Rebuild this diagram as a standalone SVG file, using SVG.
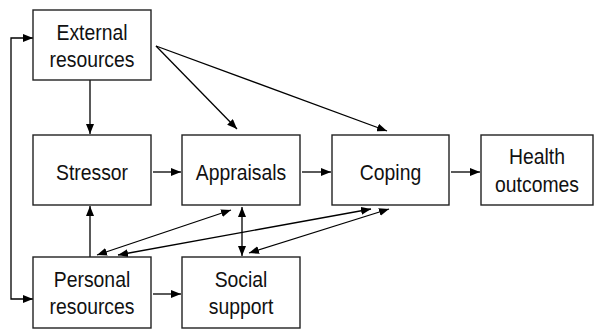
<svg xmlns="http://www.w3.org/2000/svg" width="594" height="329" viewBox="0 0 594 329">
<style>
.box{fill:#fff;stroke:#222;stroke-width:1.4}
.t{font-family:"Liberation Sans",Arial,sans-serif;font-size:22px;fill:#111;text-anchor:middle}
.c{fill:none;stroke:#000;stroke-width:1.3}
</style>
<defs>
<marker id="ah" viewBox="0 0 10 8" refX="10" refY="4" markerWidth="10" markerHeight="8" markerUnits="userSpaceOnUse" orient="auto-start-reverse">
<path d="M0,0 L10,4 L0,8 Z" fill="#000"/>
</marker>
</defs>
<rect width="594" height="329" fill="#fff"/>
<g id="connectors">
<path class="c" d="M33,38 H11 V299 H33" marker-start="url(#ah)" marker-end="url(#ah)"/>
<line class="c" x1="90" y1="80" x2="90" y2="134" marker-end="url(#ah)"/>
<line class="c" x1="156" y1="46" x2="237" y2="129" marker-end="url(#ah)"/>
<line class="c" x1="156" y1="46" x2="387" y2="131" marker-end="url(#ah)"/>
<line class="c" x1="153" y1="172" x2="181" y2="172" marker-end="url(#ah)"/>
<line class="c" x1="302" y1="172" x2="331" y2="172" marker-end="url(#ah)"/>
<line class="c" x1="451" y1="172" x2="480" y2="172" marker-end="url(#ah)"/>
<line class="c" x1="90" y1="257" x2="90" y2="206" marker-end="url(#ah)"/>
<line class="c" x1="153" y1="294" x2="181" y2="294" marker-end="url(#ah)"/>
<line class="c" x1="97" y1="255" x2="231" y2="210" marker-start="url(#ah)" marker-end="url(#ah)"/>
<line class="c" x1="118" y1="255" x2="371" y2="209" marker-start="url(#ah)" marker-end="url(#ah)"/>
<line class="c" x1="242" y1="207" x2="242" y2="256" marker-start="url(#ah)" marker-end="url(#ah)"/>
<line class="c" x1="249" y1="253" x2="389" y2="209" marker-start="url(#ah)" marker-end="url(#ah)"/>
</g>
<g id="external"><rect class="box" x="33" y="10" width="118" height="70"/><text class="t" transform="translate(92,39.5) scale(0.88,1)">External</text><text class="t" transform="translate(92,67) scale(0.88,1)">resources</text></g>
<g id="stressor"><rect class="box" x="33" y="135" width="118" height="70"/><text class="t" transform="translate(92,179.5) scale(0.88,1)">Stressor</text></g>
<g id="appraisals"><rect class="box" x="182" y="135" width="118" height="70"/><text class="t" transform="translate(241,179.5) scale(0.88,1)">Appraisals</text></g>
<g id="coping"><rect class="box" x="332" y="135" width="117" height="70"/><text class="t" transform="translate(390.5,179.5) scale(0.88,1)">Coping</text></g>
<g id="health"><rect class="box" x="481" y="135" width="112" height="70"/><text class="t" transform="translate(537,164) scale(0.88,1)">Health</text><text class="t" transform="translate(537,192) scale(0.88,1)">outcomes</text></g>
<g id="personal"><rect class="box" x="33" y="257" width="118" height="71"/><text class="t" transform="translate(92,286.5) scale(0.88,1)">Personal</text><text class="t" transform="translate(92,314) scale(0.88,1)">resources</text></g>
<g id="social"><rect class="box" x="182" y="257" width="118" height="71"/><text class="t" transform="translate(241,286.5) scale(0.88,1)">Social</text><text class="t" transform="translate(241,314) scale(0.88,1)">support</text></g>
</svg>
